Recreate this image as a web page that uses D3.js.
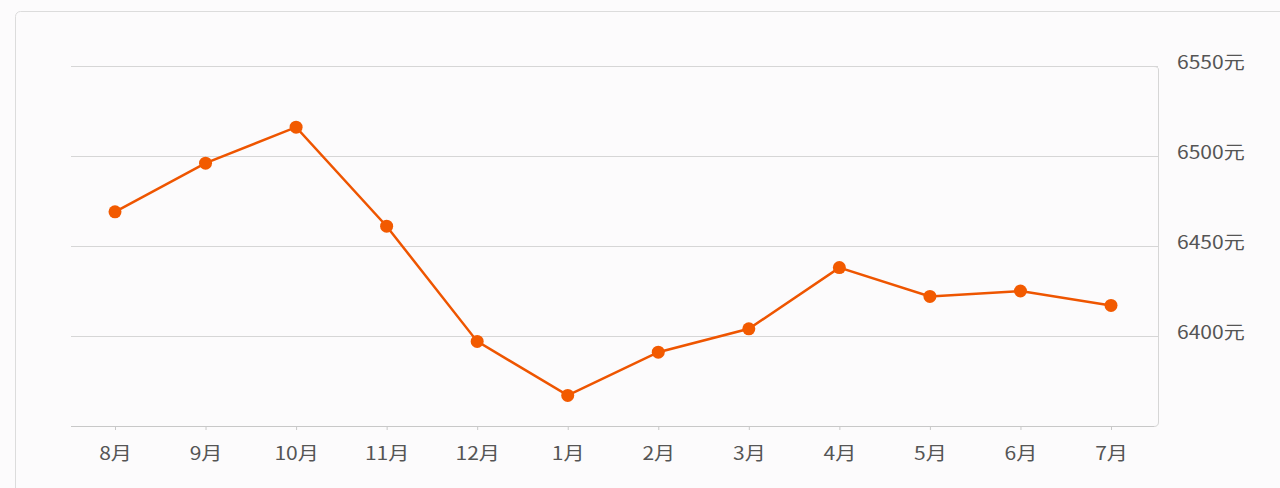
<!DOCTYPE html>
<html><head><meta charset="utf-8">
<script src="https://cdn.jsdelivr.net/npm/d3@7"></script>
<style>
html,body{margin:0;padding:0;background:#fcfbfc;}
svg{display:block;font-family:"Noto Sans CJK SC","Noto Sans",sans-serif;}
</style></head>
<body>
<svg id="c" width="1280" height="488"></svg>
<script>
const months = ["8月","9月","10月","11月","12月","1月","2月","3月","4月","5月","6月","7月"];
const prices = [6469, 6496, 6516, 6461, 6397, 6367, 6391, 6404, 6438, 6422, 6425, 6417];
const yTicks = [6400, 6450, 6500, 6550];
const unit = "元";

(function(){
const svg = d3.select("#c");
svg.append("rect").attr("x",15.5).attr("y",11.5).attr("width",1300).attr("height",500)
  .attr("rx",5).attr("fill","#fcfbfc").attr("stroke","#dcdcdc");

const pL = 71, pR = 1158, pT = 66, pB = 426;
const sx = 1.17;
const x = d3.scalePoint().domain(months).range([115, 1111]);
const y = d3.scaleLinear().domain([6350, 6550]).range([pB, pT]);

svg.append("g").selectAll("line").data(yTicks).join("line")
  .attr("x1",pL).attr("x2",pR)
  .attr("y1",d=>Math.round(y(d))+0.5).attr("y2",d=>Math.round(y(d))+0.5)
  .attr("stroke","#d6d6d6").attr("stroke-width",1);

svg.append("path")
  .attr("d",`M${pR-4},${pT+0.5} Q${pR+0.5},${pT+0.5} ${pR+0.5},${pT+4} L${pR+0.5},${pB-4} Q${pR+0.5},${pB+0.5} ${pR-4},${pB+0.5}`)
  .attr("fill","none").attr("stroke","#d6d6d6");

const xa = svg.append("g").attr("transform",`translate(0,${pB})`)
  .call(d3.axisBottom(x).tickSize(4).tickPadding(17).tickSizeOuter(0));
xa.select(".domain").attr("d",`M${pL},0.5H${pR-4}`).attr("stroke","#c8c8c8");
xa.selectAll(".tick line").attr("stroke","#c8c8c8");
xa.selectAll(".tick text").each(function(){
  const t = d3.select(this);
  const yy = +t.attr("y");
  t.attr("y",null).attr("transform",`translate(0,${yy}) scale(${sx},1)`);
}).attr("fill","#555").attr("font-size",18).attr("font-family","'Noto Sans CJK SC',sans-serif");

svg.append("g").selectAll("text").data(yTicks).join("text")
  .attr("transform",d=>`translate(1177,${y(d)-3}) scale(${sx},1)`).attr("dy","0.35em")
  .attr("fill","#555").attr("font-size",18)
  .text(d=>d+unit);

const line = d3.line().x((d,i)=>x(months[i])).y(d=>y(d));
svg.append("path").datum(prices).attr("d",line)
  .attr("fill","none").attr("stroke","#ee5500").attr("stroke-width",2.5);
svg.append("g").selectAll("circle").data(prices).join("circle")
  .attr("cx",(d,i)=>x(months[i])).attr("cy",d=>y(d)).attr("r",6.5)
  .attr("fill","#f25a00");
})();
</script>
</body></html>
